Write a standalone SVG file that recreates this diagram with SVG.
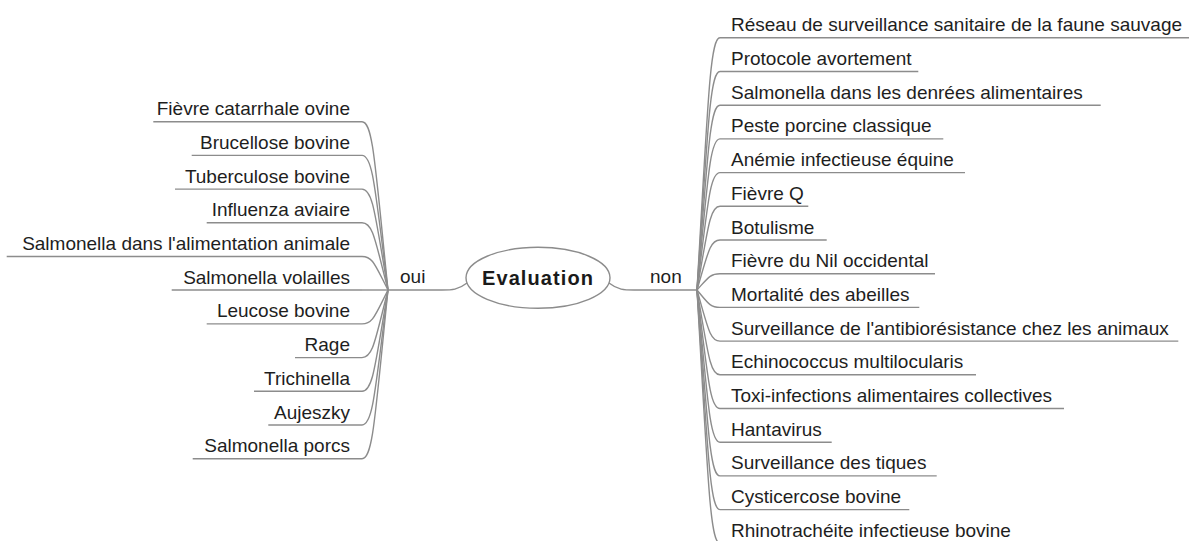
<svg xmlns="http://www.w3.org/2000/svg" width="1189" height="541" viewBox="0 0 1189 541">
<style>
.t{font-family:"Liberation Sans",Arial,sans-serif;font-size:19px;fill:#1e1e1e}
.l{text-anchor:end}
.u{stroke:#8c8c8c;stroke-width:1.4;fill:none}
.c{stroke:#8c8c8c;stroke-width:1.4;fill:none}
.root{font-family:"Liberation Sans",Arial,sans-serif;font-size:20px;font-weight:bold;fill:#1a1a1a}
</style>
<rect width="1189" height="541" fill="#ffffff"/>
<g id="connectors">
<path class="c" d="M467,283 C458,290 452,290 442,290 L388,290"/>
<path class="c" d="M609,283 C618,290 624,290 634,290 L697,290"/>
<path class="c" d="M362,121.7 C373,121.7 375,163.8 388,290"/>
<path class="c" d="M362,155.4 C373,155.4 375,189.1 388,290"/>
<path class="c" d="M362,189.1 C373,189.1 375,214.3 388,290"/>
<path class="c" d="M362,222.8 C373,222.8 375,239.6 388,290"/>
<path class="c" d="M362,256.5 C373,256.5 375,264.9 388,290"/>
<path class="c" d="M362,290 L388,290"/>
<path class="c" d="M362,323.9 C373,323.9 375,315.4 388,290"/>
<path class="c" d="M362,357.6 C373,357.6 375,340.7 388,290"/>
<path class="c" d="M362,391.3 C373,391.3 375,366 388,290"/>
<path class="c" d="M362,425 C373,425 375,391.3 388,290"/>
<path class="c" d="M362,458.7 C373,458.7 375,416.5 388,290"/>
<path class="c" d="M720,37.8 C710,37.8 708,100.9 697,290"/>
<path class="c" d="M720,71.5 C710,71.5 708,126.1 697,290"/>
<path class="c" d="M720,105.2 C710,105.2 708,151.4 697,290"/>
<path class="c" d="M720,138.9 C710,138.9 708,176.7 697,290"/>
<path class="c" d="M720,172.6 C710,172.6 708,202 697,290"/>
<path class="c" d="M720,206.3 C710,206.3 708,227.2 697,290"/>
<path class="c" d="M720,240 C710,240 708,252.5 697,290"/>
<path class="c" d="M720,273.7 C710,273.7 708,277.8 697,290"/>
<path class="c" d="M720,307.4 C710,307.4 708,303.1 697,290"/>
<path class="c" d="M720,341.1 C710,341.1 708,328.3 697,290"/>
<path class="c" d="M720,374.8 C710,374.8 708,353.6 697,290"/>
<path class="c" d="M720,408.5 C710,408.5 708,378.9 697,290"/>
<path class="c" d="M720,442.2 C710,442.2 708,404.2 697,290"/>
<path class="c" d="M720,475.9 C710,475.9 708,429.4 697,290"/>
<path class="c" d="M720,509.6 C710,509.6 708,454.7 697,290"/>
<path class="c" d="M720,543.3 C710,543.3 708,480 697,290"/>
</g>
<g id="root">
<ellipse cx="538" cy="277.8" rx="72" ry="30.5" fill="#ffffff" stroke="#8c8c8c" stroke-width="1.4"/>
<text class="root" x="482" y="285" textLength="111" lengthAdjust="spacing">Evaluation</text>
</g>
<g id="oui"><text class="t" x="400" y="283">oui</text></g>
<g id="non"><text class="t" x="650" y="283">non</text></g>
<g id="left-0"><path class="u" d="M153.3,121.7H362"/><text class="t l" x="350" y="115.2">Fièvre catarrhale ovine</text></g>
<g id="left-1"><path class="u" d="M191.7,155.4H362"/><text class="t l" x="350" y="148.9">Brucellose bovine</text></g>
<g id="left-2"><path class="u" d="M175,189.1H362"/><text class="t l" x="350" y="182.6">Tuberculose bovine</text></g>
<g id="left-3"><path class="u" d="M206.7,222.8H362"/><text class="t l" x="350" y="216.3">Influenza aviaire</text></g>
<g id="left-4"><path class="u" d="M6.7,256.5H362"/><text class="t l" x="350" y="250">Salmonella dans l'alimentation animale</text></g>
<g id="left-5"><path class="u" d="M171.7,290H362"/><text class="t l" x="350" y="283.5">Salmonella volailles</text></g>
<g id="left-6"><path class="u" d="M206.7,323.9H362"/><text class="t l" x="350" y="317.4">Leucose bovine</text></g>
<g id="left-7"><path class="u" d="M295,357.6H362"/><text class="t l" x="350" y="351.1">Rage</text></g>
<g id="left-8"><path class="u" d="M254,391.3H362"/><text class="t l" x="350" y="384.8">Trichinella</text></g>
<g id="left-9"><path class="u" d="M268.3,425H362"/><text class="t l" x="350" y="418.5">Aujeszky</text></g>
<g id="left-10"><path class="u" d="M192.7,458.7H362"/><text class="t l" x="350" y="452.2">Salmonella porcs</text></g>
<g id="right-0"><path class="u" d="M720,37.8H1189"/><text class="t" x="731" y="31.3">Réseau de surveillance sanitaire de la faune sauvage</text></g>
<g id="right-1"><path class="u" d="M720,71.5H918.3"/><text class="t" x="731" y="65">Protocole avortement</text></g>
<g id="right-2"><path class="u" d="M720,105.2H1100.7"/><text class="t" x="731" y="98.7">Salmonella dans les denrées alimentaires</text></g>
<g id="right-3"><path class="u" d="M720,138.9H943.3"/><text class="t" x="731" y="132.4">Peste porcine classique</text></g>
<g id="right-4"><path class="u" d="M720,172.6H965"/><text class="t" x="731" y="166.1">Anémie infectieuse équine</text></g>
<g id="right-5"><path class="u" d="M720,206.3H808.3"/><text class="t" x="731" y="199.8">Fièvre Q</text></g>
<g id="right-6"><path class="u" d="M720,240H826.7"/><text class="t" x="731" y="233.5">Botulisme</text></g>
<g id="right-7"><path class="u" d="M720,273.7H935"/><text class="t" x="731" y="267.2">Fièvre du Nil occidental</text></g>
<g id="right-8"><path class="u" d="M720,307.4H919.3"/><text class="t" x="731" y="300.9">Mortalité des abeilles</text></g>
<g id="right-9"><path class="u" d="M720,341.1H1178.3"/><text class="t" x="731" y="334.6">Surveillance de l'antibiorésistance chez les animaux</text></g>
<g id="right-10"><path class="u" d="M720,374.8H976"/><text class="t" x="731" y="368.3">Echinococcus multilocularis</text></g>
<g id="right-11"><path class="u" d="M720,408.5H1064"/><text class="t" x="731" y="402">Toxi-infections alimentaires collectives</text></g>
<g id="right-12"><path class="u" d="M720,442.2H831.7"/><text class="t" x="731" y="435.7">Hantavirus</text></g>
<g id="right-13"><path class="u" d="M720,475.9H936.7"/><text class="t" x="731" y="469.4">Surveillance des tiques</text></g>
<g id="right-14"><path class="u" d="M720,509.6H909.3"/><text class="t" x="731" y="503.1">Cysticercose bovine</text></g>
<g id="right-15"><path class="u" d="M720,543.3H1040"/><text class="t" x="731" y="536.8">Rhinotrachéite infectieuse bovine</text></g>
</svg>
